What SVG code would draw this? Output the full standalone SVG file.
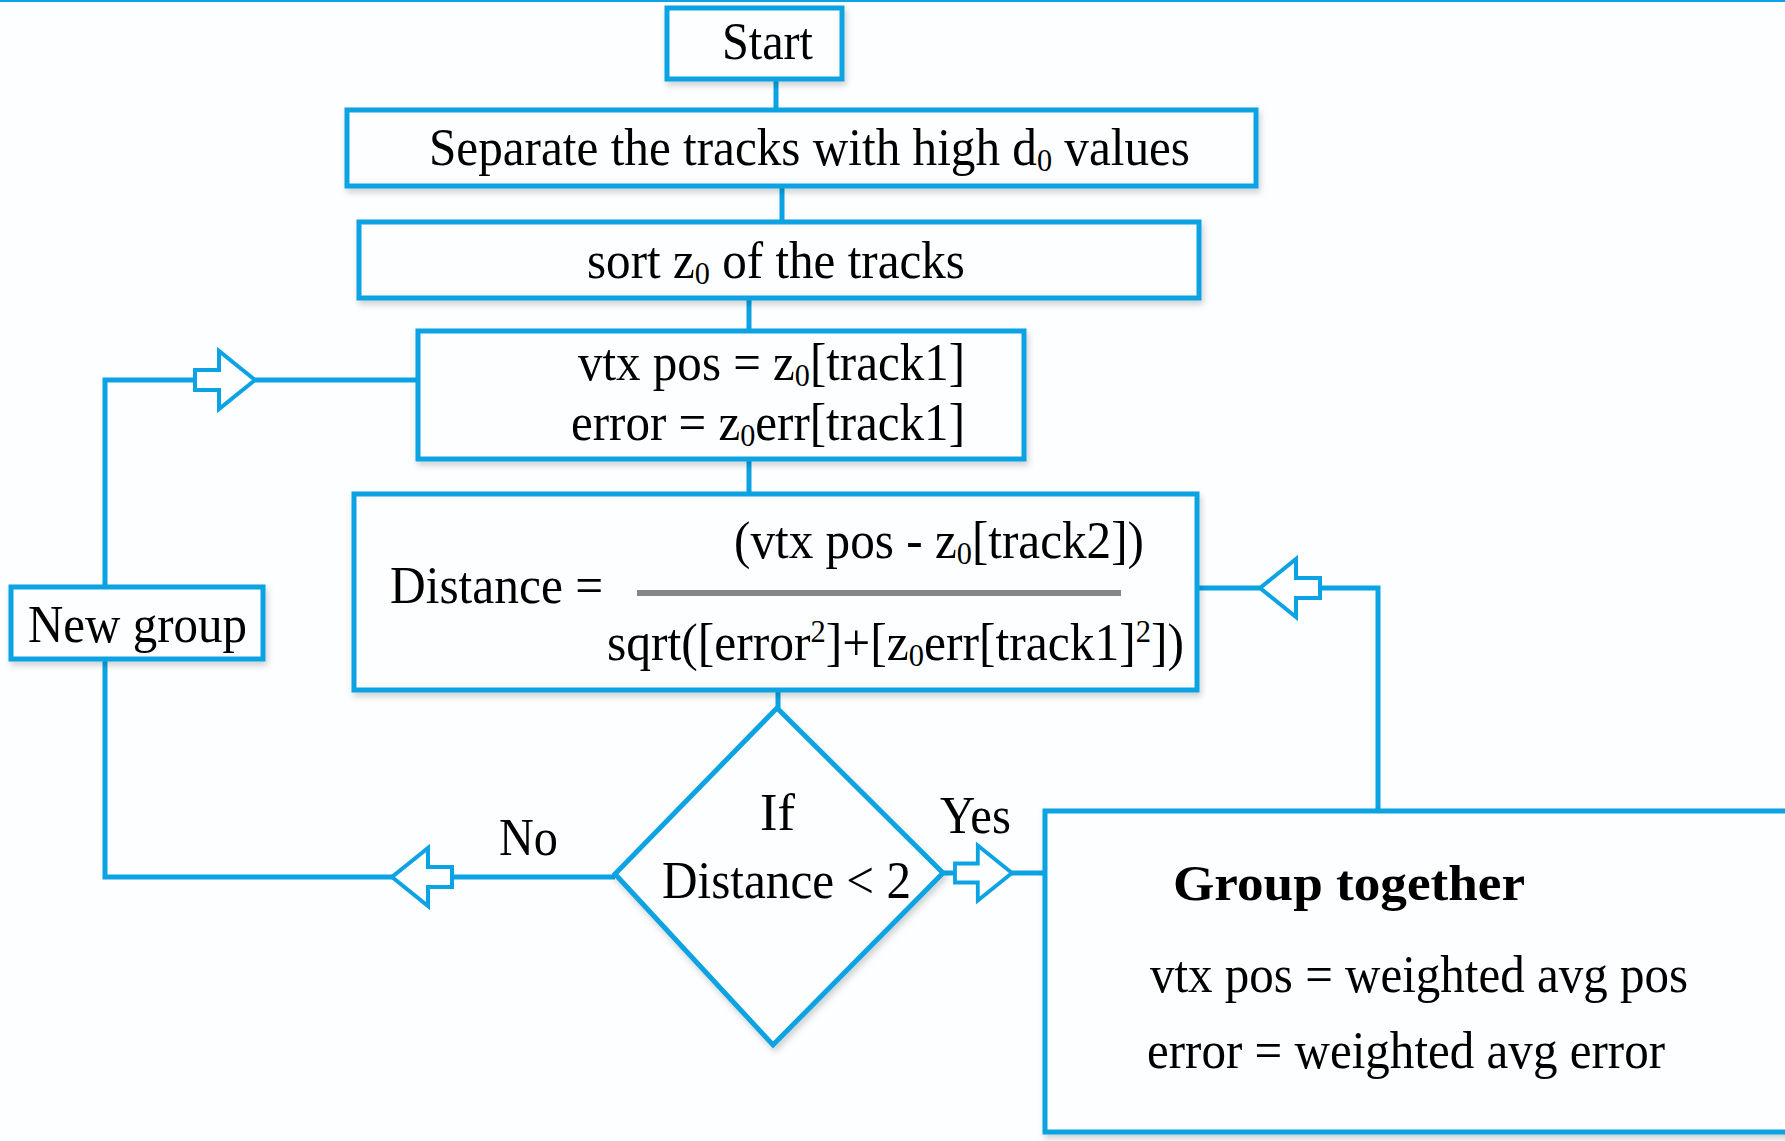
<svg xmlns="http://www.w3.org/2000/svg" xmlns:xlink="http://www.w3.org/1999/xlink" width="1785" height="1141" viewBox="0 0 1785 1141">
<defs>
<style>
.box{fill:#FDFEFF;stroke:#0BA3E3;stroke-width:5;}
.ln{fill:none;stroke:#0BA3E3;stroke-width:5;}
.arr{fill:#FDFEFF;stroke:#0BA3E3;stroke-width:4;stroke-linejoin:miter;}
.t{font-family:"Liberation Serif","Times New Roman",serif;font-size:52px;fill:#000;}
.b{font-weight:bold;font-size:50px;}
</style>
<filter id="sh" x="-5%" y="-10%" width="115%" height="130%">
<feDropShadow dx="2" dy="4" stdDeviation="3" flood-color="#000" flood-opacity="0.18"/>
</filter>
<path id="arrowR" d="M-60,-10 L-36,-10 L-36,-29 L0,0 L-36,29 L-36,10 L-60,10 Z"/>
</defs>
<rect x="0" y="0" width="1785" height="1141" fill="#FDFEFF"/>
<line x1="0" y1="1" x2="1785" y2="1" stroke="#0BA3E3" stroke-width="2"/>

<g id="connectors">
<line class="ln" x1="776" y1="80" x2="776" y2="110"/>
<line class="ln" x1="782" y1="186" x2="782" y2="222"/>
<line class="ln" x1="749" y1="298" x2="749" y2="331"/>
<line class="ln" x1="749" y1="459" x2="749" y2="494"/>
<line class="ln" x1="778" y1="690" x2="778" y2="708"/>
<polyline class="ln" points="105,587 105,380 418,380"/>
<use href="#arrowR" class="arr" transform="translate(255,380)"/>
<polyline class="ln" points="105,659 105,877 615,877"/>
<use href="#arrowR" class="arr" transform="translate(392,877) scale(-1,1)"/>
<line class="ln" x1="943" y1="873" x2="1045" y2="873"/>
<use href="#arrowR" class="arr" transform="translate(1012,873) scale(0.95,0.95)"/>
<polyline class="ln" points="1378,811 1378,588 1197,588"/>
<use href="#arrowR" class="arr" transform="translate(1260,588) scale(-1,1)"/>
</g>

<g id="start">
<rect class="box" filter="url(#sh)" x="667" y="8" width="175" height="71"/>
<text class="t" x="722" y="59" textLength="91" lengthAdjust="spacingAndGlyphs">Start</text>
</g>

<g id="separate">
<rect class="box" filter="url(#sh)" x="347" y="110" width="909" height="76"/>
<text class="t" x="429" y="165" textLength="761" lengthAdjust="spacingAndGlyphs">Separate the tracks with high d<tspan font-size="32" dy="6">0</tspan><tspan dy="-6"> values</tspan></text>
</g>

<g id="sort">
<rect class="box" filter="url(#sh)" x="359" y="222" width="840" height="76"/>
<text class="t" x="587" y="278" textLength="378" lengthAdjust="spacingAndGlyphs">sort z<tspan font-size="32" dy="6">0</tspan><tspan dy="-6"> of the tracks</tspan></text>
</g>

<g id="init">
<rect class="box" filter="url(#sh)" x="418" y="331" width="606" height="128"/>
<text class="t" x="578" y="380" textLength="387" lengthAdjust="spacingAndGlyphs">vtx pos = z<tspan font-size="32" dy="6">0</tspan><tspan dy="-6">[track1]</tspan></text>
<text class="t" x="571" y="440" textLength="394" lengthAdjust="spacingAndGlyphs">error = z<tspan font-size="32" dy="6">0</tspan><tspan dy="-6">err[track1]</tspan></text>
</g>

<g id="distance">
<rect class="box" filter="url(#sh)" x="354" y="494" width="843" height="196"/>
<text class="t" x="390" y="603" textLength="213" lengthAdjust="spacingAndGlyphs">Distance =</text>
<text class="t" x="734" y="558" textLength="410" lengthAdjust="spacingAndGlyphs">(vtx pos - z<tspan font-size="32" dy="6">0</tspan><tspan dy="-6">[track2])</tspan></text>
<line x1="637" y1="593" x2="1121" y2="593" stroke="#868686" stroke-width="6"/>
<text class="t" x="607" y="660" textLength="577" lengthAdjust="spacingAndGlyphs">sqrt([error<tspan font-size="32" dy="-18">2</tspan><tspan dy="18">]+[z</tspan><tspan font-size="32" dy="6">0</tspan><tspan dy="-6">err[track1]</tspan><tspan font-size="32" dy="-18">2</tspan><tspan dy="18">])</tspan></text>
</g>

<g id="newgroup">
<rect class="box" filter="url(#sh)" x="11" y="587" width="252" height="72"/>
<text class="t" x="28" y="642" textLength="219" lengthAdjust="spacingAndGlyphs">New group</text>
</g>

<g id="decision">
<polygon class="box" filter="url(#sh)" stroke-width="4" points="777,708 943,873 773,1045 615,874"/>
<text class="t" x="760" y="830" textLength="35" lengthAdjust="spacingAndGlyphs">If</text>
<text class="t" x="662" y="898" textLength="249" lengthAdjust="spacingAndGlyphs">Distance &lt; 2</text>
</g>

<g id="labels">
<text class="t" x="499" y="855" textLength="59" lengthAdjust="spacingAndGlyphs">No</text>
<text class="t" x="940" y="833" textLength="71" lengthAdjust="spacingAndGlyphs">Yes</text>
</g>

<g id="grouptogether">
<rect class="box" filter="url(#sh)" x="1045" y="811" width="800" height="321"/>
<text class="t b" x="1173" y="900" textLength="352" lengthAdjust="spacingAndGlyphs">Group together</text>
<text class="t" x="1150" y="992" textLength="538" lengthAdjust="spacingAndGlyphs">vtx pos = weighted avg pos</text>
<text class="t" x="1147" y="1068" textLength="518" lengthAdjust="spacingAndGlyphs">error = weighted avg error</text>
</g>
</svg>
